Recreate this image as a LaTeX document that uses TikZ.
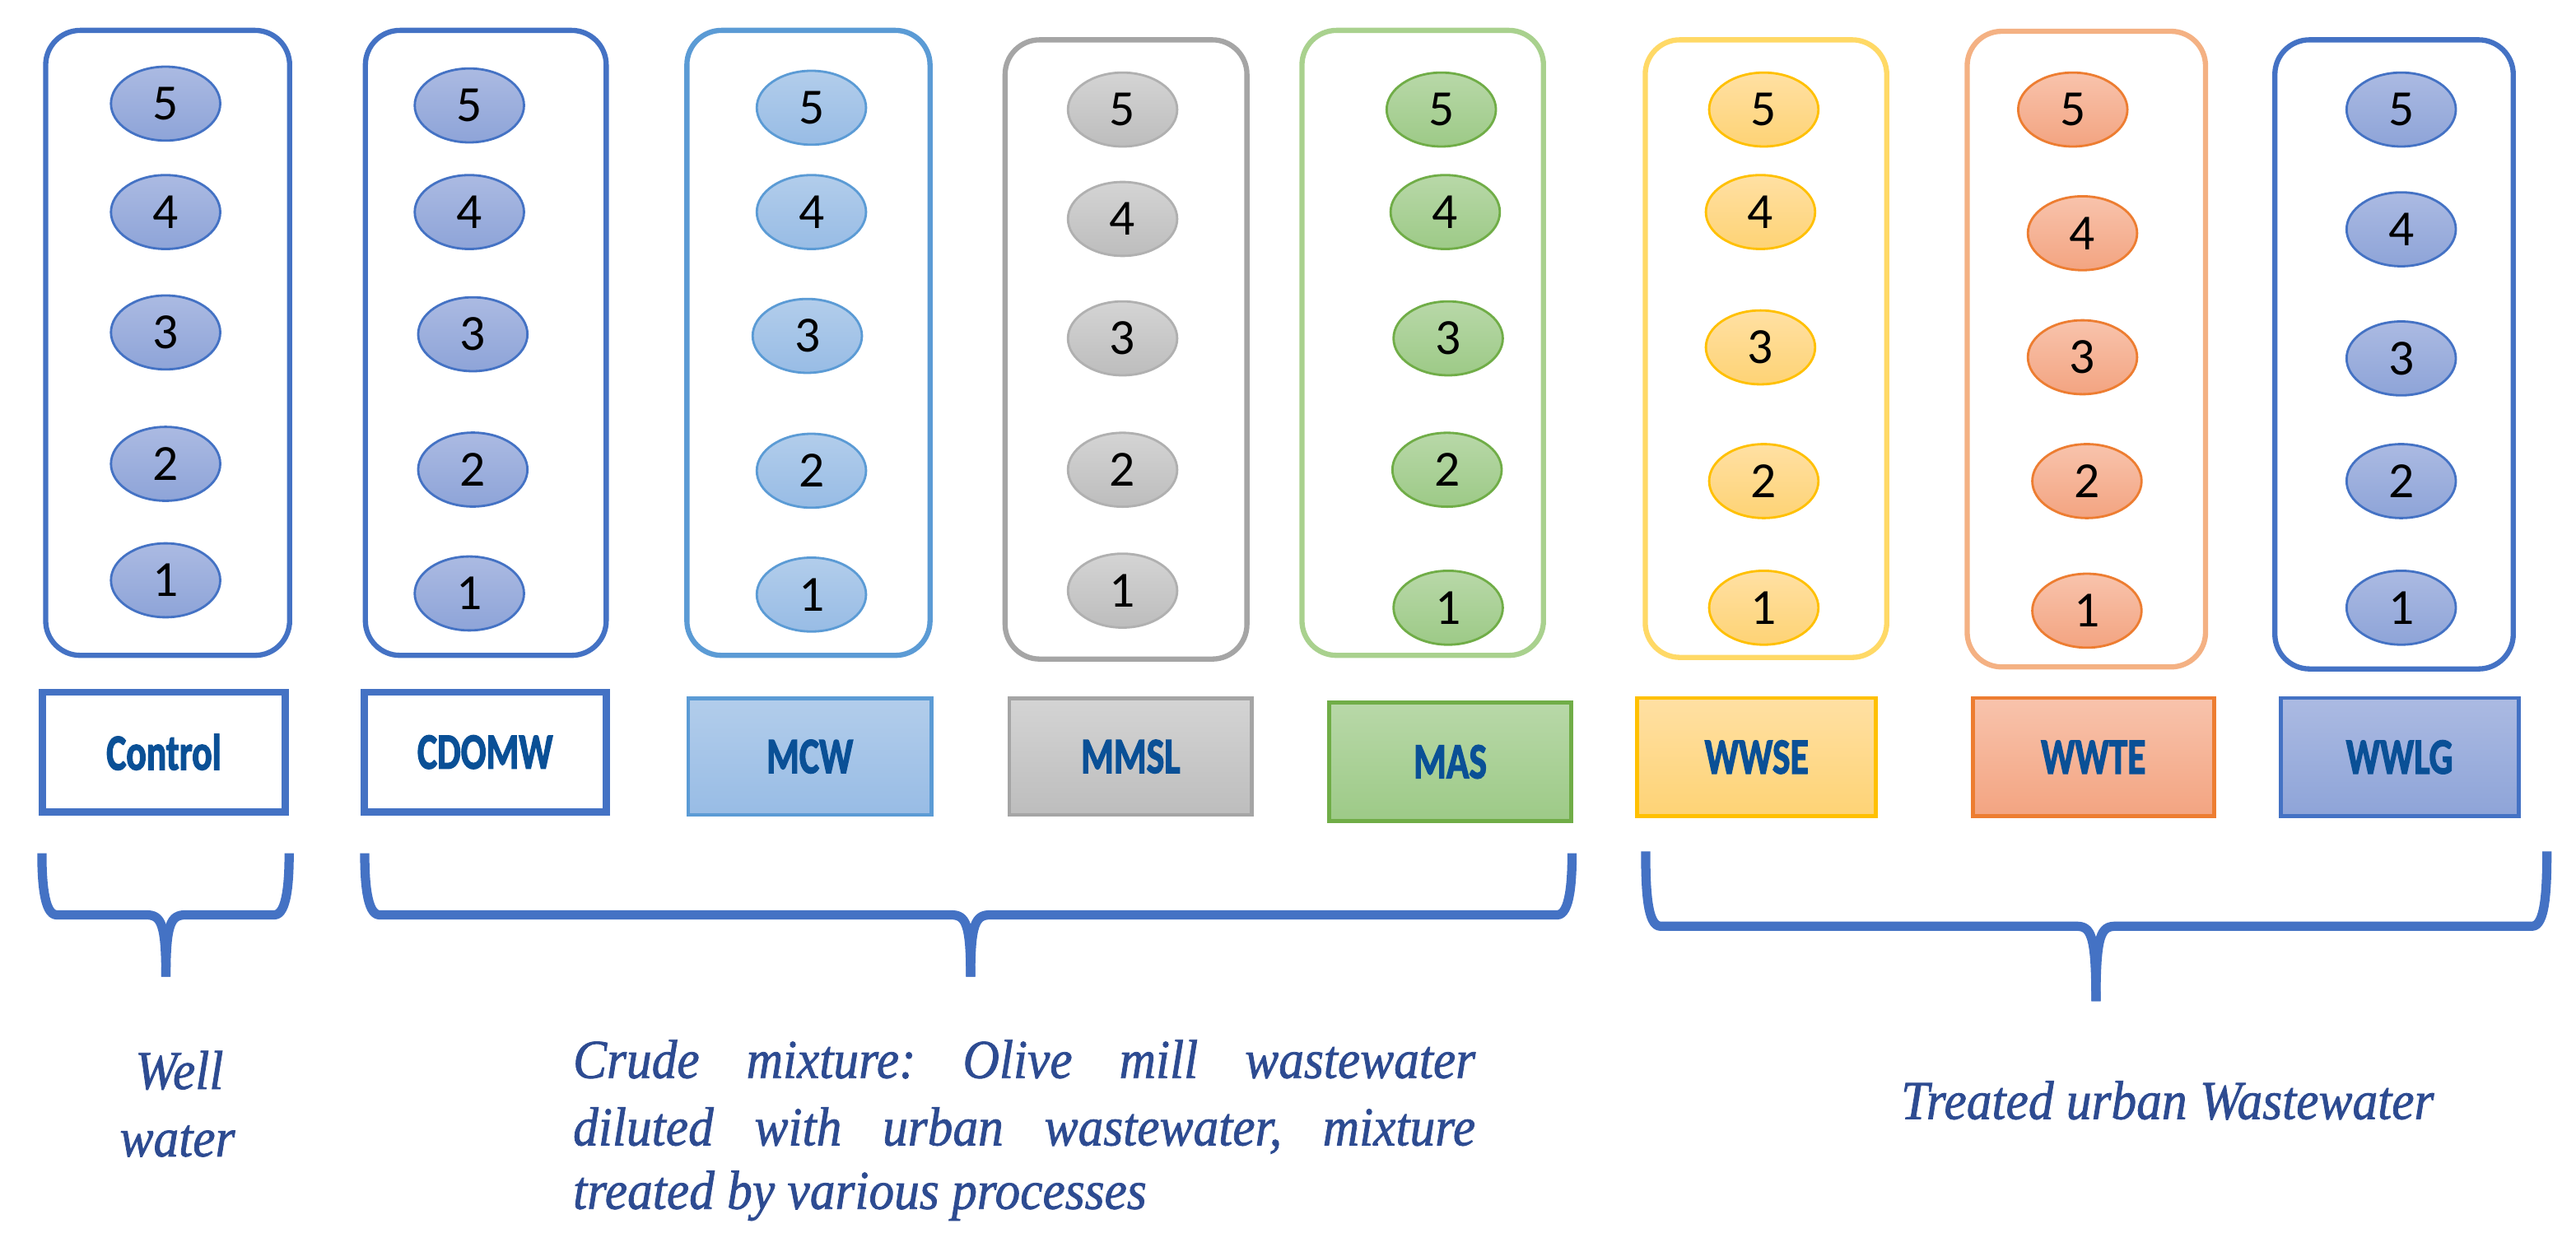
\documentclass[tikz,border=0pt]{standalone}
\usepackage{fontspec}
\usepackage{graphicx}
\usetikzlibrary{shapes.geometric}
\newfontfamily\numfont{Carlito}
\newfontfamily\lblfont{Carlito}
\newfontfamily\serfont{Liberation Serif}
\frenchspacing
\newcommand\upx{0.019955cm}
% ellipse colours
\definecolor{bluetp}{RGB}{171,186,226}\definecolor{bluebt}{RGB}{142,164,216}\definecolor{blueln}{HTML}{4472C4}
\definecolor{mcwtp}{RGB}{178,205,235}\definecolor{mcwbt}{RGB}{152,188,229}\definecolor{mcwln}{HTML}{5B9BD5}
\definecolor{grytp}{RGB}{212,212,212}\definecolor{grybt}{RGB}{189,189,189}\definecolor{gryln}{HTML}{B0B0B0}
\definecolor{grntp}{RGB}{184,216,168}\definecolor{grnbt}{RGB}{157,202,135}\definecolor{grnln}{HTML}{70AD47}
\definecolor{yeltp}{RGB}{255,224,163}\definecolor{yelbt}{RGB}{254,211,117}\definecolor{yelln}{HTML}{FFC000}
\definecolor{orgtp}{RGB}{248,195,172}\definecolor{orgbt}{RGB}{243,164,129}\definecolor{orgln}{HTML}{ED7D31}
% box outlines
\definecolor{bxblue}{HTML}{4472C4}\definecolor{bxmcw}{HTML}{5B9BD5}\definecolor{bxgry}{HTML}{A5A5A5}
\definecolor{bxgrn}{HTML}{A9D18E}\definecolor{bxyel}{HTML}{FFD966}\definecolor{bxorg}{HTML}{F4B183}
\definecolor{lbltxt}{RGB}{10,80,150}
\definecolor{itxt}{RGB}{45,75,145}
\newcommand\smp[6]{\node[ell=#2] (#1) at (#3,#4) {#6};}
\newcommand\lbt[1]{\scalebox{0.74}[1]{#1}}
\newcommand\itx[1]{\scalebox{0.92}[1]{#1}}
\newcommand\mybrace[6]{%
 \draw[brc] (#1,#4) .. controls (#1,#5-22) and (#1+1,#5) .. (#1+9,#5) -- (#3-12,#5) .. controls (#3-3,#5) and (#3,#5+5) .. (#3,#6);
 \draw[brc] (#2,#4) .. controls (#2,#5-22) and (#2-1,#5) .. (#2-9,#5) -- (#3+12,#5) .. controls (#3+3,#5) and (#3,#5+5) .. (#3,#6);}
\begin{document}
\begin{tikzpicture}[x=0.019955cm, y=-0.019955cm,
  ell/.style={shape=ellipse, draw=#1ln, top color=#1tp, bottom color=#1bt, line width=0.8pt,
    minimum width=66.5*\upx, minimum height=45*\upx, inner sep=0pt,
    font=\numfont\fontsize{17.5}{20}\selectfont, text=black},
  grp/.style={draw=#1, line width=1.8pt, rounded corners=0.42cm, fill=white},
  lbl/.style={draw=#1, line width=1.4pt, inner sep=0pt, text=lbltxt,
    font=\lblfont\bfseries\fontsize{17.5}{20}\selectfont\addfontfeature{FakeBold=2.5}},
  brc/.style={draw=bxblue, line width=3.2pt, line join=round, line cap=butt},
  ital/.style={inner sep=0pt, text=itxt, font=\serfont\itshape\fontsize{19}{22}\selectfont\addfontfeature{FakeBold=1.2}}]
\useasboundingbox (0,0) rectangle (1568,759);

% ---- group boxes ----
\node[grp=bxblue, minimum width=148.5*\upx, minimum height=380.5*\upx] (gControl) at (102.05,208.75) {};
\node[grp=bxblue, minimum width=146.6*\upx, minimum height=380.5*\upx] (gCDOMW) at (295.7,208.75) {};
\node[grp=bxmcw, minimum width=148*\upx, minimum height=380.5*\upx] (gMCW) at (492.1,208.75) {};
\node[grp=bxgry, minimum width=147.2*\upx, minimum height=377*\upx] (gMMSL) at (685.4,212.75) {};
\node[grp=bxgrn, minimum width=147*\upx, minimum height=380.5*\upx] (gMAS) at (866,208.75) {};
\node[grp=bxyel, minimum width=147*\upx, minimum height=376*\upx] (gWWSE) at (1074.95,212.25) {};
\node[grp=bxorg, minimum width=145.1*\upx, minimum height=387*\upx] (gWWTE) at (1269.95,212.55) {};
\node[grp=bxblue, minimum width=145.1*\upx, minimum height=383*\upx] (gWWLG) at (1457.25,215.75) {};

% ---- samples ----
\smp{a5}{blue}{100.8}{63.1}{}{5}\smp{a4}{blue}{100.8}{129.1}{}{4}\smp{a3}{blue}{100.8}{202.4}{}{3}
\smp{a2}{blue}{100.8}{282.4}{}{2}\smp{a1}{blue}{100.8}{353.3}{}{1}
\smp{b5}{blue}{285.7}{64.2}{}{5}\smp{b4}{blue}{285.7}{129.1}{}{4}\smp{b3}{blue}{287.8}{203.5}{}{3}
\smp{b2}{blue}{287.8}{285.9}{}{2}\smp{b1}{blue}{285.7}{361.3}{}{1}
\smp{c5}{mcw}{493.9}{65.6}{}{5}\smp{c4}{mcw}{493.9}{129.1}{}{4}\smp{c3}{mcw}{491.4}{204.5}{}{3}
\smp{c2}{mcw}{493.9}{286.6}{}{2}\smp{c1}{mcw}{493.9}{362}{}{1}
\begin{scope}[every node/.append style={minimum width=68*\upx}]
\smp{d5}{gry}{683.3}{66.7}{}{5}\smp{d4}{gry}{683.3}{133.3}{}{4}\smp{d3}{gry}{683.3}{206}{}{3}
\smp{d2}{gry}{683.3}{286}{}{2}\smp{d1}{gry}{683.3}{359.6}{}{1}
\end{scope}
\smp{e5}{grn}{877.3}{66.7}{}{5}\smp{e4}{grn}{879.7}{129.1}{}{4}\smp{e3}{grn}{881.5}{206}{}{3}
\smp{e2}{grn}{880.8}{286}{}{2}\smp{e1}{grn}{881.5}{370}{}{1}
\begin{scope}[every node/.append style={minimum width=65.5*\upx, minimum height=44*\upx}]
\smp{f5}{yel}{1073.6}{66.7}{}{5}\smp{f4}{yel}{1071.6}{129.1}{}{4}\smp{f3}{yel}{1071.6}{211.5}{}{3}
\smp{f2}{yel}{1073.6}{292.9}{}{2}\smp{f1}{yel}{1073.6}{370}{}{1}
\end{scope}
\begin{scope}[every node/.append style={minimum width=68*\upx}]
\smp{g5}{org}{1261.7}{66.7}{}{5}\smp{g4}{org}{1267.6}{142}{}{4}\smp{g3}{org}{1267.6}{217.5}{}{3}
\smp{g2}{org}{1270.3}{292.9}{}{2}\smp{g1}{org}{1270.3}{371.8}{}{1}
\end{scope}
\smp{h5}{blue}{1461.6}{66.7}{}{5}\smp{h4}{blue}{1461.6}{139.6}{}{4}\smp{h3}{blue}{1461.6}{218.2}{}{3}
\smp{h2}{blue}{1461.6}{292.9}{}{2}\smp{h1}{blue}{1461.6}{370}{}{1}

% ---- labels ----
\node[lbl=bxblue, line width=2.5pt, fill=white, minimum width=148*\upx, minimum height=73*\upx] (lControl) at (99.75,457.9) {\lbt{Control}};
\node[lbl=bxblue, line width=2.5pt, fill=white, minimum width=147.3*\upx, minimum height=73*\upx] (lCDOMW) at (295.3,457.9) {\lbt{CDOMW}};
\node[lbl=mcwln, top color=mcwtp, bottom color=mcwbt, minimum width=148*\upx, minimum height=71*\upx] (lMCW) at (492.95,460.6) {\lbt{MCW}};
\node[lbl=bxgry, top color=grytp, bottom color=grybt, minimum width=147.7*\upx, minimum height=71*\upx] (lMMSL) at (688.2,460.6) {\lbt{MMSL}};
\node[lbl=grnln, top color=grntp, bottom color=grnbt, minimum width=147.6*\upx, minimum height=72.3*\upx] (lMAS) at (882.75,463.8) {\lbt{MAS}};
\node[lbl=yelln, top color=yeltp, bottom color=yelbt, minimum width=145.4*\upx, minimum height=72*\upx] (lWWSE) at (1069.25,460.95) {\lbt{WWSE}};
\node[lbl=orgln, top color=orgtp, bottom color=orgbt, minimum width=147*\upx, minimum height=72*\upx] (lWWTE) at (1274.25,460.95) {\lbt{WWTE}};
\node[lbl=blueln, top color=bluetp, bottom color=bluebt, minimum width=144.7*\upx, minimum height=72*\upx] (lWWLG) at (1460.6,460.95) {\lbt{WWLG}};

% ---- braces ----
\mybrace{25.5}{176}{101}{519.5}{557}{594.7}
\mybrace{222}{956.9}{590.8}{519.5}{557}{594.7}
\mybrace{1001.7}{1550.3}{1275.8}{518.3}{563.9}{609.5}

% ---- captions ----
\node[ital, anchor=base] (wellA) at (109.2,663) {\itx{Well}};
\node[ital, anchor=base] (wellB) at (108,704) {\itx{water}};
\node[ital, anchor=base west] (crude1) at (348.5,656.3) {\itx{\makebox[339pt][s]{Crude mixture: Olive mill wastewater}}};
\node[ital, anchor=base west] (crude2) at (348.5,697.3) {\itx{\makebox[339pt][s]{diluted with urban wastewater, mixture}}};
\node[ital, anchor=base west] (crude3) at (348.5,736) {\itx{treated by various processes}};
\node[ital, anchor=base west] (treated) at (1156.8,681.3) {\itx{Treated urban Wastewater}};
\end{tikzpicture}
\end{document}
